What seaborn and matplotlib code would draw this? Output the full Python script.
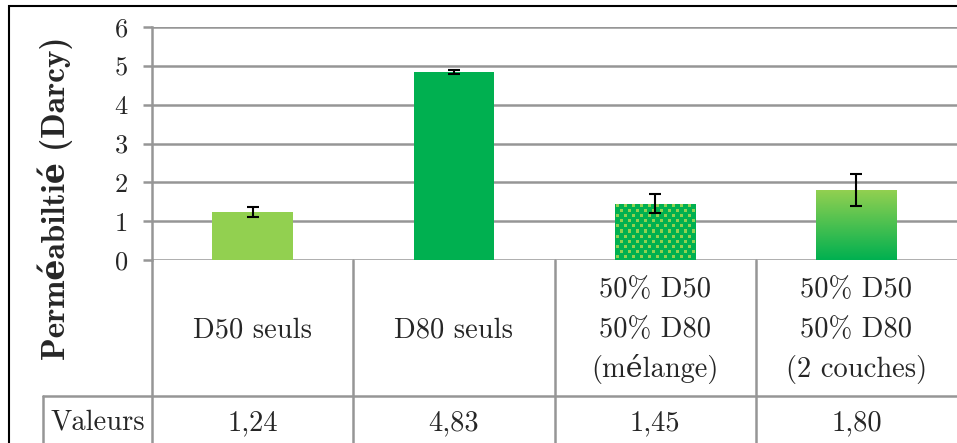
import matplotlib
matplotlib.use('Agg')
import matplotlib.pyplot as plt
import seaborn as sns
import numpy as np
from matplotlib.colors import LinearSegmentedColormap, ListedColormap
from matplotlib.patches import Rectangle

# Chart data
categories = ['D50 seuls', 'D80 seuls', '50% D50\n50% D80\n(mélange)', '50% D50\n50% D80\n(2 couches)']
values = [1.24, 4.83, 1.45, 1.80]
errors = [0.12, 0.05, 0.25, 0.42]
value_labels = ['1,24', '4,83', '1,45', '1,80']
yticks = [0, 1, 2, 3, 4, 5, 6]

LIGHT = '#92D050'
DARK = '#00B050'
GRID = '#969696'

sns.set_style('white')
plt.rcParams['font.family'] = ['cmr10', 'DejaVu Serif']
plt.rcParams['axes.formatter.use_mathtext'] = True

W, H = 957, 443
fig = plt.figure(figsize=(W / 100, H / 100), dpi=100)
ax = fig.add_axes([152 / W, 1 - 260 / H, (W - 152) / W, 233 / H])

sns.barplot(x=list(range(len(values))), y=values, hue=list(range(len(values))),
            palette=[LIGHT, DARK, DARK, DARK], legend=False, width=0.4,
            saturation=1, linewidth=0, ax=ax, zorder=2)
ax.errorbar(range(len(values)), values, yerr=errors, fmt='none', ecolor='black',
            elinewidth=1.5, capsize=4.3, capthick=1.5, zorder=4)

ax.set_xlim(-0.5, 3.5)
ax.set_ylim(0, 6)

# patterned bar (mélange): small light squares on dark green
p = ax.patches[2]
wpx = int(round(p.get_width() * (W - 152) / 4))
hpx = int(round(p.get_height() * 233 / 6))
tile = np.zeros((10, 8))
tile[1:4, 1:4] = 1
tile[6:9, 5:8] = 1
pat = np.tile(tile, (hpx // 10 + 2, wpx // 8 + 2))[:hpx, :wpx]
im = ax.imshow(pat, extent=[p.get_x(), p.get_x() + p.get_width(), 0, p.get_height()],
               origin='upper', aspect='auto', interpolation='nearest',
               cmap=ListedColormap([DARK, LIGHT]), zorder=3)
im.set_clip_path(p)

# gradient bar (2 couches)
p = ax.patches[3]
cmap = LinearSegmentedColormap.from_list('g', [DARK, LIGHT])
grad = np.linspace(0, 1, 256).reshape(-1, 1)
im = ax.imshow(grad, extent=[p.get_x(), p.get_x() + p.get_width(), 0, p.get_height()],
               origin='lower', aspect='auto', cmap=cmap, zorder=3)
im.set_clip_path(p)
p.set_facecolor('none')

ax.set_xlim(-0.5, 3.5)
ax.set_ylim(0, 6)
ax.set_yticks(yticks)
ax.set_yticklabels([str(t) for t in yticks], fontsize=19)
ax.set_xticks([])
ax.yaxis.grid(True, color=GRID, linewidth=1.8)
ax.set_axisbelow(True)
for s in ['top', 'right', 'bottom']:
    ax.spines[s].set_visible(False)
ax.spines['left'].set_color(GRID)
ax.spines['left'].set_linewidth(1.8)
ax.tick_params(axis='y', direction='out', length=6.5, width=1.8, color=GRID, pad=11, left=True)
ax.set_xlabel('')
ax.set_ylabel('')

# data table below the axis
tr = ax.get_xaxis_transform()
row1 = (260 - 396) / 233
bottom = -0.9
line_kw = dict(color=GRID, linewidth=1.8, transform=tr, clip_on=False)
ax.plot([-0.5, -0.5], [0, bottom], **line_kw)
for xb in [0.5, 1.5, 2.5]:
    ax.plot([xb, xb], [0, bottom], **line_kw)
xv = -0.5 - (152 - 43) / 201
ax.plot([xv, xv], [row1, bottom], **line_kw)
ax.plot([xv, 3.5], [row1, row1], **line_kw)

step = 40 / 233
mid = (260 - 337) / 233
for i, lab in enumerate(categories):
    lines = lab.split('\n')
    n = len(lines)
    for j, ln in enumerate(lines):
        yb = mid + ((n - 1) / 2 - j) * step
        ax.text(i, yb, ln, transform=tr, ha='center', va='baseline', fontsize=20.5)
    ax.text(i, (260 - 430) / 233, value_labels[i], transform=tr, ha='center',
            va='baseline', fontsize=20.5)
ax.text((xv - 0.5) / 2, (260 - 430) / 233, 'Valeurs', transform=tr, ha='center',
        va='baseline', fontsize=20.5)

fig.text(55 / W, 1 - 198 / H, 'Perméabiltié (Darcy)', rotation=90, ha='center',
         va='center', fontsize=24, fontweight='bold', family=['cmb10', 'DejaVu Serif'])

fig.patches.append(Rectangle((9 / W, -0.1), 1.2, 1.1 - 6 / H, transform=fig.transFigure,
                             fill=False, edgecolor='black', linewidth=1.5))

fig.savefig('out.png', dpi=100)
